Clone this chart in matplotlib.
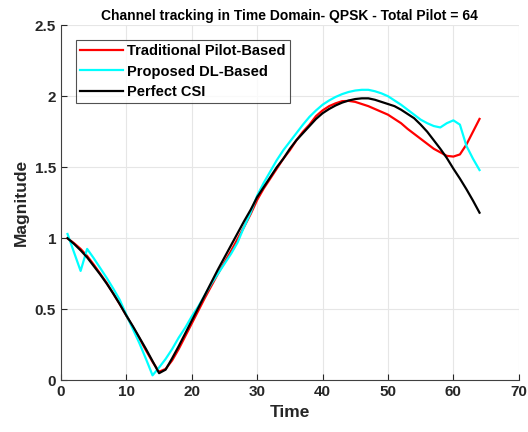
import numpy as np
import matplotlib
matplotlib.use("Agg")
import matplotlib.pyplot as plt

plt.rcParams['font.family'] = ['Liberation Sans', 'DejaVu Sans']
plt.rcParams['font.weight'] = 'bold'

# ---- data ----
t = np.arange(1, 65)

perfect_csi = [
    1.00, 0.96, 0.915, 0.865, 0.805, 0.745, 0.68, 0.61, 0.535, 0.455,
    0.38, 0.30, 0.22, 0.135, 0.05, 0.075, 0.155, 0.24, 0.33, 0.42,
    0.51, 0.60, 0.69, 0.78, 0.865, 0.95, 1.035, 1.12, 1.20, 1.29,
    1.36, 1.43, 1.50, 1.56, 1.63, 1.69, 1.74, 1.79, 1.84, 1.88,
    1.91, 1.935, 1.955, 1.97, 1.98, 1.985, 1.985, 1.975, 1.96, 1.945,
    1.93, 1.905, 1.875, 1.845, 1.80, 1.75, 1.69, 1.63, 1.565, 1.49,
    1.42, 1.345, 1.265, 1.18,
]

traditional = [
    1.00, 0.965, 0.925, 0.875, 0.815, 0.75, 0.685, 0.61, 0.535, 0.455,
    0.375, 0.295, 0.21, 0.13, 0.06, 0.08, 0.14, 0.22, 0.31, 0.40,
    0.49, 0.58, 0.665, 0.75, 0.83, 0.91, 0.995, 1.08, 1.17, 1.27,
    1.35, 1.42, 1.49, 1.56, 1.62, 1.69, 1.75, 1.80, 1.86, 1.90,
    1.93, 1.95, 1.965, 1.967, 1.96, 1.945, 1.93, 1.91, 1.89, 1.87,
    1.84, 1.81, 1.77, 1.735, 1.70, 1.665, 1.63, 1.605, 1.58, 1.575,
    1.59, 1.66, 1.75, 1.84,
]

proposed_dl = [
    1.03, 0.90, 0.77, 0.925, 0.86, 0.79, 0.72, 0.645, 0.565, 0.46,
    0.36, 0.26, 0.15, 0.035, 0.09, 0.15, 0.22, 0.30, 0.37, 0.45,
    0.52, 0.60, 0.68, 0.75, 0.82, 0.89, 0.97, 1.08, 1.18, 1.30,
    1.39, 1.47, 1.55, 1.62, 1.68, 1.74, 1.80, 1.855, 1.90, 1.94,
    1.97, 1.995, 2.015, 2.03, 2.04, 2.045, 2.045, 2.035, 2.02, 2.00,
    1.97, 1.94, 1.905, 1.87, 1.835, 1.81, 1.79, 1.78, 1.81, 1.83,
    1.80, 1.65, 1.56, 1.48,
]

fig = plt.figure(figsize=(5.28, 4.32), dpi=100)
ax = fig.add_axes([0.1155, 0.1197, 0.867, 0.822])

ax.plot(t, traditional, color='red', lw=1.6, label='Traditional Pilot-Based')
ax.plot(t, proposed_dl, color='cyan', lw=1.6, label='Proposed DL-Based')
ax.plot(t, perfect_csi, color='black', lw=1.6, label='Perfect CSI')

ax.set_xlim(0, 70)
ax.set_ylim(0, 2.5)
ax.set_xticks(np.arange(0, 71, 10))
ax.set_yticks([0, 0.5, 1, 1.5, 2, 2.5])
ax.set_yticklabels(['0', '0.5', '1', '1.5', '2', '2.5'])
ax.grid(True, color='#e6e6e6', lw=0.8)
ax.set_axisbelow(True)
for s in ['top', 'right']:
    ax.spines[s].set_visible(False)
for s in ['left', 'bottom']:
    ax.spines[s].set_color('#404040')
ax.tick_params(labelsize=11, colors='#262626', length=4, direction='in')

ax.set_xlabel('Time', fontsize=12.5, fontweight='bold', color='#262626')
ax.set_ylabel('Magnitude', fontsize=12.5, fontweight='bold', color='#262626')
ax.set_title('Channel tracking in Time Domain- QPSK - Total Pilot = 64',
             fontsize=10, fontweight='bold', pad=4)

leg = ax.legend(loc='upper left', bbox_to_anchor=(0.033, 0.958), fontsize=10.5,
                handlelength=2.9, handletextpad=0.3, frameon=True,
                fancybox=False, borderpad=0.3, labelspacing=0.42,
                borderaxespad=0)
leg.get_frame().set_edgecolor('#262626')
leg.get_frame().set_linewidth(0.8)

fig.savefig('out.png', dpi=100)
